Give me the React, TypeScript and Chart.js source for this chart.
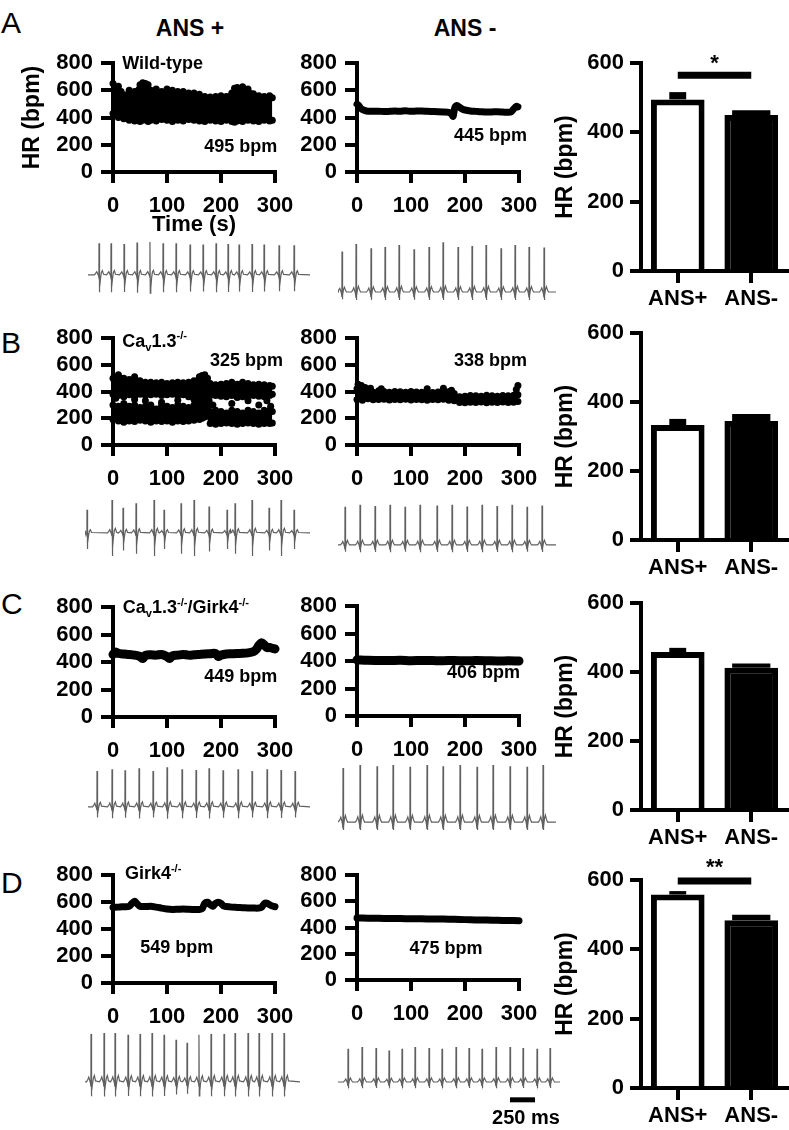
import React, { useEffect, useRef } from 'react';
import { Chart, registerables } from 'chart.js';
Chart.register(...registerables);

const FONT = "'Liberation Sans', Arial, Helvetica, sans-serif";

// ---------------- axis ticks / categories ----------------
const TIME_TICKS = [0, 100, 200, 300];
const HR_TICKS = [0, 200, 400, 600, 800];
const BAR_TICKS = [0, 200, 400, 600];
const BAR_CATEGORIES = ['ANS+', 'ANS-'];

// ---------------- A: wild-type ----------------
const A_PLUS_T = [0, 5, 10, 15, 20, 30, 40, 50, 55, 60, 65, 70, 80, 90, 100, 110, 120, 130, 140, 150, 160, 170, 180, 190, 200, 210, 220, 225, 230, 235, 240, 250, 260, 270, 280, 290, 295];
const A_PLUS_TOP = [650, 610, 630, 590, 565, 600, 590, 640, 655, 650, 640, 600, 610, 590, 610, 600, 590, 590, 580, 580, 570, 555, 550, 555, 560, 555, 580, 615, 620, 600, 625, 610, 575, 560, 555, 560, 545];
const A_PLUS_BOT = [430, 440, 400, 420, 390, 380, 375, 370, 380, 385, 370, 380, 375, 385, 380, 370, 380, 375, 385, 380, 375, 370, 380, 375, 370, 380, 370, 365, 375, 380, 370, 380, 375, 370, 380, 375, 380];
const A_MINUS_T = [0, 3, 6, 10, 15, 20, 30, 40, 50, 60, 70, 80, 90, 100, 110, 120, 130, 140, 150, 160, 170, 175, 178, 181, 185, 190, 195, 200, 210, 220, 230, 240, 250, 260, 270, 280, 285, 290, 295, 298];
const A_MINUS_HR = [498, 490, 472, 458, 450, 446, 445, 446, 444, 445, 447, 446, 449, 445, 447, 448, 445, 444, 443, 441, 438, 425, 408, 470, 488, 475, 462, 455, 448, 445, 442, 440, 441, 442, 440, 438, 440, 462, 482, 478];
const A_BAR_MEAN = [495, 450];
const A_BAR_SEM = [21, 14];
const A_SIG = 565;

// ---------------- B: Cav1.3-/- ----------------
const B_PLUS_T = [0, 10, 20, 30, 40, 50, 60, 70, 80, 90, 100, 110, 120, 130, 140, 150, 160, 165, 170, 175, 180, 190, 200, 210, 220, 230, 240, 250, 260, 270, 280, 290, 295];
const B_PLUS_HI_TOP = [500, 525, 500, 490, 510, 480, 470, 470, 465, 470, 460, 465, 470, 465, 470, 480, 510, 520, 525, 500, 460, 450, 455, 460, 470, 455, 470, 460, 450, 455, 450, 445, 440];
const B_PLUS_HI_BOT = [380, 370, 360, 375, 365, 380, 370, 375, 380, 370, 375, 380, 370, 375, 360, 350, 330, 300, 290, 350, 370, 370, 365, 360, 370, 355, 360, 365, 370, 365, 360, 370, 380];
const B_PLUS_LO_TOP = [300, 290, 310, 290, 300, 280, 290, 300, 270, 300, 290, 280, 300, 290, 280, 300, 310, 320, 330, 340, 250, 260, 250, 240, 260, 250, 240, 260, 250, 240, 260, 260, 250];
const B_PLUS_LO_BOT = [190, 180, 170, 180, 175, 185, 180, 170, 180, 175, 180, 170, 180, 175, 180, 185, 190, 200, 210, 230, 160, 155, 160, 165, 160, 155, 160, 165, 160, 155, 160, 160, 165];
const B_PLUS_LOOSE_T = [5, 40, 60, 90, 120, 150, 160, 168, 172, 178, 185, 220, 250, 270, 285, 292];
const B_PLUS_LOOSE_HR = [350, 340, 330, 320, 335, 340, 300, 250, 220, 330, 300, 310, 330, 300, 330, 290];
const B_MINUS_T = [0, 10, 20, 30, 40, 50, 60, 70, 80, 90, 100, 110, 120, 130, 140, 150, 160, 170, 180, 190, 200, 210, 220, 230, 240, 250, 260, 270, 280, 290, 298];
const B_MINUS_TOP = [420, 400, 410, 395, 405, 400, 395, 400, 398, 395, 400, 396, 394, 398, 392, 396, 400, 398, 385, 360, 365, 370, 368, 365, 372, 368, 365, 370, 368, 372, 375];
const B_MINUS_BOT = [340, 335, 345, 338, 340, 342, 336, 340, 338, 342, 336, 340, 338, 335, 340, 338, 342, 335, 330, 318, 315, 320, 318, 322, 316, 320, 318, 322, 318, 320, 325];
const B_MINUS_LOOSE_T = [2, 5, 8, 15, 25, 45, 130, 160, 175, 295, 298];
const B_MINUS_LOOSE_HR = [455, 440, 445, 430, 425, 420, 420, 425, 410, 415, 445];
const B_BAR_MEAN = [333, 345];
const B_BAR_SEM = [18, 20];

// ---------------- C: Cav1.3-/-/Girk4-/- ----------------
const C_PLUS_T = [0, 5, 10, 20, 30, 40, 50, 55, 60, 70, 80, 90, 100, 105, 110, 120, 130, 140, 150, 160, 170, 180, 190, 195, 200, 210, 220, 230, 240, 250, 260, 265, 270, 275, 280, 285, 290, 295, 300];
const C_PLUS_HR = [455, 472, 462, 458, 455, 450, 440, 425, 448, 452, 450, 455, 440, 425, 445, 450, 455, 450, 452, 455, 458, 460, 462, 440, 450, 458, 460, 462, 463, 466, 475, 490, 520, 540, 525, 505, 505, 500, 495];
const C_MINUS_T = [0, 20, 40, 60, 80, 100, 120, 140, 160, 180, 200, 220, 240, 260, 280, 300];
const C_MINUS_HR = [408, 405, 404, 403, 405, 402, 404, 403, 402, 404, 401, 403, 402, 400, 401, 400];
const C_BAR_MEAN = [458, 412];
const C_BAR_SEM = [12, 13];

// ---------------- D: Girk4-/- ----------------
const D_PLUS_T = [0, 10, 20, 30, 35, 40, 45, 50, 60, 70, 80, 90, 100, 110, 120, 130, 140, 150, 160, 165, 170, 175, 180, 185, 190, 195, 200, 205, 210, 220, 230, 240, 250, 260, 270, 275, 280, 285, 290, 295, 300];
const D_PLUS_HR = [560, 562, 565, 568, 590, 605, 585, 568, 566, 568, 562, 555, 548, 545, 546, 548, 546, 545, 544, 550, 590, 598, 580, 568, 590, 598, 590, 570, 566, 562, 560, 558, 556, 555, 555, 560, 588, 592, 580, 570, 565];
const D_MINUS_T = [0, 20, 40, 60, 80, 100, 120, 140, 160, 180, 200, 220, 240, 260, 280, 300];
const D_MINUS_HR = [472, 471, 470, 469, 468, 467, 466, 465, 464, 462, 460, 458, 457, 455, 453, 452];
const D_BAR_MEAN = [558, 484];
const D_BAR_SEM = [10, 16];
const D_SIG = 597;

// ---------------- ECG traces (ms, relative amplitude) ----------------
const ECG_TPL_T = [-45, -32, -22, -12, -5, -1, 0, 3, 8, 15, 24, 34, 45];
const ECG_TPL_WT = [0, 0.06, 0.1, 0.03, -0.02, -0.08, 1, -0.55, -0.4, -0.12, 0.08, 0.14, 0.02];
const ECG_TPL_NARROW = [0, 0.04, 0.09, 0.02, -0.04, -0.12, 1, -0.18, -0.08, 0.06, 0.12, 0.05, 0];
const ECG_TPL_DEEP = [0, 0.05, 0.1, 0.02, -0.03, -0.1, 1, -0.7, -0.45, -0.12, 0.08, 0.14, 0.02];
const ECG_TPL_MID = [0, 0.05, 0.1, 0.02, -0.03, -0.1, 1, -0.3, -0.2, -0.04, 0.08, 0.13, 0.02];

const ECG_A_PLUS_BEATS = [110, 230, 360, 490, 620, 750, 880, 1020, 1150, 1280, 1400, 1510, 1640, 1760, 1910, 2060];
const ECG_A_PLUS_AMPS = [0.96, 0.96, 0.94, 0.98, 1.0, 0.96, 0.96, 0.92, 0.92, 0.96, 0.94, 0.92, 0.94, 0.92, 0.9, 0.9];
const ECG_A_MINUS_BEATS = [40, 180, 330, 470, 610, 760, 910, 1050, 1200, 1340, 1480, 1630, 1770, 1910, 2060];
const ECG_A_MINUS_AMPS = [0.86, 1.02, 0.93, 0.96, 1.0, 0.91, 0.96, 1.06, 0.96, 0.98, 1.0, 0.93, 1.0, 0.96, 0.95];
const ECG_B_PLUS_BEATS = [20, 270, 380, 510, 690, 790, 960, 1090, 1240, 1420, 1500, 1670, 1840, 1960, 2090];
const ECG_B_PLUS_AMPS = [0.7, 1.0, 0.76, 0.9, 1.0, 0.7, 0.9, 1.0, 0.8, 0.7, 0.9, 1.0, 0.76, 1.0, 0.7];
const ECG_B_MINUS_BEATS = [70, 220, 370, 520, 670, 820, 990, 1140, 1290, 1440, 1590, 1740, 1890, 2040];
const ECG_B_MINUS_AMPS = [0.95, 1.0, 0.97, 1.0, 0.95, 1.0, 0.98, 1.0, 0.96, 1.0, 0.97, 1.0, 0.95, 0.98];
const ECG_C_PLUS_BEATS = [90, 240, 370, 510, 650, 790, 940, 1080, 1210, 1350, 1500, 1640, 1790, 1930, 2070];
const ECG_C_PLUS_AMPS = [0.9, 0.95, 0.92, 0.97, 0.9, 1.0, 0.95, 0.93, 0.97, 0.92, 0.95, 0.9, 0.95, 0.93, 0.9];
const ECG_C_MINUS_BEATS = [50, 220, 390, 550, 720, 890, 1050, 1220, 1390, 1550, 1720, 1890, 2050];
const ECG_C_MINUS_AMPS = [0.95, 1.0, 0.98, 1.0, 0.97, 1.0, 0.98, 1.0, 0.97, 1.0, 0.98, 0.97, 1.0];
const ECG_D_PLUS_BEATS = [60, 190, 300, 430, 550, 670, 790, 910, 1020, 1140, 1260, 1390, 1500, 1630, 1740, 1870, 1990];
const ECG_D_PLUS_AMPS = [0.98, 1.0, 1.0, 0.96, 0.98, 1.0, 0.96, 0.86, 0.8, 0.96, 0.98, 0.98, 1.0, 1.0, 1.0, 1.0, 1.0];
const ECG_D_MINUS_BEATS = [100, 240, 380, 510, 640, 770, 910, 1040, 1180, 1310, 1440, 1580, 1720, 1850, 1990, 2120];
const ECG_D_MINUS_AMPS = [0.95, 1.0, 0.97, 0.9, 0.95, 1.0, 0.97, 0.95, 1.0, 0.97, 0.95, 1.0, 1.0, 0.97, 0.95, 0.97];
const SCALE_BAR_MS = [1720, 1970];

// ---------------- helpers ----------------
type Seg = { t: string; m?: 'sub' | 'sup' };
type Note = { x: number; y: number; segs: Seg[]; align: 'left' | 'right' | 'center'; size: number };
type Box = { x: number; y: number; w: number; h: number };
type Area = { left: number; right: number; top: number; bottom: number };

const txt = (t: string): Seg[] => [{ t }];
const CAV: Seg[] = [{ t: 'Ca' }, { t: 'v', m: 'sub' }, { t: '1.3' }, { t: '-/-', m: 'sup' }];
const CAV_GIRK: Seg[] = [{ t: 'Ca' }, { t: 'v', m: 'sub' }, { t: '1.3' }, { t: '-/-', m: 'sup' }, { t: '/Girk4' }, { t: '-/-', m: 'sup' }];
const GIRK: Seg[] = [{ t: 'Girk4' }, { t: '-/-', m: 'sup' }];

function drawRich(ctx: CanvasRenderingContext2D, segs: Seg[], x: number, y: number, size: number, align: string) {
  let total = 0;
  const parts = segs.map((s) => {
    const fs = s.m ? size * 0.62 : size;
    ctx.font = `bold ${fs}px ${FONT}`;
    const w = ctx.measureText(s.t).width;
    total += w;
    return { s, fs, w };
  });
  let cx = align === 'right' ? x - total : align === 'center' ? x - total / 2 : x;
  const base = y + size * 0.36;
  ctx.textAlign = 'left';
  ctx.textBaseline = 'alphabetic';
  for (const p of parts) {
    ctx.font = `bold ${p.fs}px ${FONT}`;
    const dy = p.s.m === 'sub' ? size * 0.22 : p.s.m === 'sup' ? -size * 0.42 : 0;
    ctx.fillText(p.s.t, cx, base + dy);
    cx += p.w;
  }
}

const notesPlugin = (notes: Note[]) => ({
  id: 'notes',
  afterDraw(chart: any) {
    const ctx = chart.ctx;
    const xs = chart.scales.x;
    const ys = chart.scales.y;
    ctx.save();
    ctx.fillStyle = '#000';
    for (const n of notes) {
      drawRich(ctx, n.segs, xs.getPixelForValue(n.x), ys.getPixelForValue(n.y), n.size, n.align);
    }
    ctx.restore();
  },
});

const pts = (T: number[], V: number[]) => T.map((t, i) => ({ x: t, y: V[i] }));

const bandSets = (T: number[], top: number[], bot: number[]) => [
  { data: pts(T, top), borderColor: '#000', backgroundColor: '#000', borderWidth: 3, pointRadius: 3.5, pointBackgroundColor: '#000', pointBorderWidth: 0, fill: '+1', clip: 6 },
  { data: pts(T, bot), borderColor: '#000', backgroundColor: '#000', borderWidth: 3, pointRadius: 3.5, pointBackgroundColor: '#000', pointBorderWidth: 0, fill: false, clip: 6 },
];
const thickLine = (T: number[], V: number[], w: number) => ({
  data: pts(T, V), borderColor: '#000', borderWidth: w, pointRadius: 0, fill: false, tension: 0.3,
  borderCapStyle: 'round', borderJoinStyle: 'round', clip: 6,
});
const looseDots = (T: number[], V: number[]) => ({
  data: pts(T, V), showLine: false, pointRadius: 3.5, pointBackgroundColor: '#000', pointBorderWidth: 0, borderColor: '#000', clip: 6,
});

const tickFont = { family: FONT, size: 22, weight: 'bold' as const };
const titleFont = { family: FONT, size: 23, weight: 'bold' as const };

const axisStyle = (tickLength: number, padding: number) => ({
  border: { display: true, color: '#000', width: 4 },
  grid: { display: true, drawOnChartArea: false, drawTicks: true, tickLength, tickWidth: 4, tickColor: '#000', color: '#000', lineWidth: 4, offset: false },
  ticks: { color: '#000', font: tickFont, padding, maxRotation: 0, autoSkip: false },
});

function hrConfig(box: Box, area: Area, datasets: any[], notes: Note[], xTitle: boolean, yTitle: boolean) {
  return {
    type: 'line',
    data: { datasets },
    options: {
      animation: false, responsive: false, devicePixelRatio: 1, events: [],
      layout: { padding: { left: 0, top: area.top - box.y, right: box.x + box.w - area.right, bottom: 0 } },
      plugins: { legend: { display: false }, tooltip: { enabled: false } },
      scales: {
        x: {
          type: 'linear', min: 0, max: 300,
          ...axisStyle(11, 10),
          afterBuildTicks: (s: any) => { s.ticks = TIME_TICKS.map((v) => ({ value: v })); },
          afterFit: (s: any) => { s.height = box.y + box.h - area.bottom; },
          title: { display: xTitle, text: 'Time (s)', color: '#000', font: { family: FONT, size: 22, weight: 'bold' }, padding: 0 },
        },
        y: {
          type: 'linear', min: 0, max: 800,
          ...axisStyle(12, 8),
          afterBuildTicks: (s: any) => { s.ticks = HR_TICKS.map((v) => ({ value: v })); },
          afterFit: (s: any) => { s.width = area.left - box.x; },
          title: { display: yTitle, text: 'HR (bpm)', color: '#000', font: titleFont, padding: { top: 19, bottom: 0 } },
        },
      },
    },
    plugins: [notesPlugin(notes)],
  };
}

function barConfig(box: Box, area: Area, means: number[], sems: number[], sig: number | null, notes: Note[]) {
  const datasets: any[] = [];
  if (sig !== null) {
    datasets.push({ type: 'line', data: [sig, sig], borderColor: '#000', borderWidth: 7, pointRadius: 0, order: 1, clip: false, borderCapStyle: 'butt' });
  }
  datasets.push({ type: 'bar', data: [[means[0], means[0] + sems[0]], null], backgroundColor: '#000', barPercentage: 0.23, categoryPercentage: 1, grouped: false, order: 2 });
  datasets.push({ type: 'bar', data: [null, [means[1], means[1] + sems[1]]], backgroundColor: '#000', barPercentage: 0.52, categoryPercentage: 1, grouped: false, order: 2 });
  datasets.push({ type: 'bar', data: means, backgroundColor: ['#fff', '#000'], borderColor: '#000', borderWidth: 6, barPercentage: 0.73, categoryPercentage: 1, grouped: false, order: 3 });
  return {
    type: 'bar',
    data: { labels: BAR_CATEGORIES, datasets },
    options: {
      animation: false, responsive: false, devicePixelRatio: 1, events: [],
      layout: { padding: { left: 0, top: area.top - box.y, right: box.x + box.w - area.right, bottom: 0 } },
      plugins: { legend: { display: false }, tooltip: { enabled: false } },
      scales: {
        x: {
          type: 'category', offset: true,
          ...axisStyle(12, 3),
          afterFit: (s: any) => { s.height = box.y + box.h - area.bottom; },
        },
        y: {
          type: 'linear', min: 0, max: 600,
          ...axisStyle(11, 6),
          afterBuildTicks: (s: any) => { s.ticks = BAR_TICKS.map((v) => ({ value: v })); },
          afterFit: (s: any) => { s.width = area.left - box.x; },
          title: { display: true, text: 'HR (bpm)', color: '#000', font: titleFont, padding: { top: 7, bottom: 0 } },
        },
      },
    },
    plugins: [notesPlugin(notes)],
  };
}

function ecgConfig(span: number, ymin: number, ymax: number, tpl: number[], beats: number[], amps: number[], withScaleBar = false) {
  const trace: { x: number; y: number }[] = [{ x: 0, y: 0 }];
  beats.forEach((b, i) => ECG_TPL_T.forEach((t, j) => trace.push({ x: b + t, y: tpl[j] * amps[i] })));
  trace.push({ x: span, y: 0 });
  trace.sort((a, b) => a.x - b.x);
  const datasets: any[] = [{ data: trace, borderColor: '#606060', borderWidth: 1.2, pointRadius: 0, fill: false, tension: 0 }];
  const notes: Note[] = [];
  if (withScaleBar) {
    datasets.push({ data: SCALE_BAR_MS.map((x) => ({ x, y: -0.51 })), borderColor: '#000', borderWidth: 5, pointRadius: 0, fill: false, borderCapStyle: 'butt' });
    notes.push({ x: 1880, y: -1.0, segs: txt('250 ms'), align: 'center', size: 20 });
  }
  return {
    type: 'line',
    data: { datasets },
    options: {
      animation: false, responsive: false, devicePixelRatio: 1, events: [],
      layout: { padding: 0 },
      plugins: { legend: { display: false }, tooltip: { enabled: false } },
      scales: {
        x: { type: 'linear', display: false, min: 0, max: span },
        y: { type: 'linear', display: false, min: ymin, max: ymax },
      },
    },
    plugins: [notesPlugin(notes)],
  };
}

// ---------------- panels ----------------
type Panel = { key: string; box: Box; make: () => any };

const L = (top: number, bottom: number): Area => ({ left: 113, right: 275, top, bottom });
const M = (top: number, bottom: number): Area => ({ left: 357, right: 519, top, bottom });
const R = (top: number, bottom: number): Area => ({ left: 641, right: 788, top, bottom });

const PANELS: Panel[] = [
  // Row A
  { key: 'aL', box: { x: 0, y: 38, w: 320, h: 200 }, make: () => hrConfig({ x: 0, y: 38, w: 320, h: 200 }, L(63, 172),
    [...bandSets(A_PLUS_T, A_PLUS_TOP, A_PLUS_BOT)],
    [{ x: 17, y: 805, segs: txt('Wild-type'), align: 'left', size: 18 }, { x: 304, y: 198, segs: txt('495 bpm'), align: 'right', size: 18 }], true, true) },
  { key: 'aM', box: { x: 300, y: 38, w: 250, h: 184 }, make: () => hrConfig({ x: 300, y: 38, w: 250, h: 184 }, M(63, 172),
    [thickLine(A_MINUS_T, A_MINUS_HR, 7)],
    [{ x: 315, y: 272, segs: txt('445 bpm'), align: 'right', size: 18 }], false, false) },
  { key: 'aR', box: { x: 545, y: 33, w: 244, h: 283 }, make: () => barConfig({ x: 545, y: 33, w: 244, h: 283 }, R(63, 271), A_BAR_MEAN, A_BAR_SEM, A_SIG,
    [{ x: 0.5, y: 603, segs: txt('*'), align: 'center', size: 22 }]) },
  { key: 'aLe', box: { x: 88, y: 238, w: 222, h: 62 }, make: () => ecgConfig(2220, -0.76, 1.12, ECG_TPL_WT, ECG_A_PLUS_BEATS, ECG_A_PLUS_AMPS) },
  { key: 'aMe', box: { x: 338, y: 238, w: 218, h: 62 }, make: () => ecgConfig(2180, -0.17, 1.15, ECG_TPL_NARROW, ECG_A_MINUS_BEATS, ECG_A_MINUS_AMPS) },

  // Row B
  { key: 'bL', box: { x: 0, y: 313, w: 320, h: 182 }, make: () => hrConfig({ x: 0, y: 313, w: 320, h: 182 }, L(338, 445),
    [...bandSets(B_PLUS_T, B_PLUS_HI_TOP, B_PLUS_HI_BOT), ...bandSets(B_PLUS_T, B_PLUS_LO_TOP, B_PLUS_LO_BOT), looseDots(B_PLUS_LOOSE_T, B_PLUS_LOOSE_HR)],
    [{ x: 17, y: 784, segs: CAV, align: 'left', size: 18 }, { x: 315, y: 642, segs: txt('325 bpm'), align: 'right', size: 18 }], false, false) },
  { key: 'bM', box: { x: 300, y: 313, w: 250, h: 182 }, make: () => hrConfig({ x: 300, y: 313, w: 250, h: 182 }, M(338, 445),
    [...bandSets(B_MINUS_T, B_MINUS_TOP, B_MINUS_BOT), looseDots(B_MINUS_LOOSE_T, B_MINUS_LOOSE_HR)],
    [{ x: 315, y: 642, segs: txt('338 bpm'), align: 'right', size: 18 }], false, false) },
  { key: 'bR', box: { x: 545, y: 303, w: 244, h: 282 }, make: () => barConfig({ x: 545, y: 303, w: 244, h: 282 }, R(333, 540), B_BAR_MEAN, B_BAR_SEM, null, []) },
  { key: 'bLe', box: { x: 85, y: 495, w: 225, h: 65 }, make: () => ecgConfig(2250, -0.82, 1.15, ECG_TPL_DEEP, ECG_B_PLUS_BEATS, ECG_B_PLUS_AMPS) },
  { key: 'bMe', box: { x: 338, y: 500, w: 218, h: 60 }, make: () => ecgConfig(2180, -0.375, 1.12, ECG_TPL_NARROW, ECG_B_MINUS_BEATS, ECG_B_MINUS_AMPS) },

  // Row C
  { key: 'cL', box: { x: 0, y: 582, w: 320, h: 185 }, make: () => hrConfig({ x: 0, y: 582, w: 320, h: 185 }, L(607, 717),
    [thickLine(C_PLUS_T, C_PLUS_HR, 9)],
    [{ x: 18, y: 800, segs: CAV_GIRK, align: 'left', size: 18 }, { x: 304, y: 305, segs: txt('449 bpm'), align: 'right', size: 18 }], false, false) },
  { key: 'cM', box: { x: 300, y: 581, w: 250, h: 185 }, make: () => hrConfig({ x: 300, y: 581, w: 250, h: 185 }, M(606, 716),
    [thickLine(C_MINUS_T, C_MINUS_HR, 9)],
    [{ x: 302, y: 320, segs: txt('406 bpm'), align: 'right', size: 18 }], false, false) },
  { key: 'cR', box: { x: 545, y: 573, w: 244, h: 282 }, make: () => barConfig({ x: 545, y: 573, w: 244, h: 282 }, R(603, 810), C_BAR_MEAN, C_BAR_SEM, null, []) },
  { key: 'cLe', box: { x: 88, y: 760, w: 222, h: 60 }, make: () => ecgConfig(2220, -0.33, 1.18, ECG_TPL_MID, ECG_C_PLUS_BEATS, ECG_C_PLUS_AMPS) },
  { key: 'cMe', box: { x: 338, y: 760, w: 218, h: 70 }, make: () => ecgConfig(2180, -0.14, 1.09, ECG_TPL_NARROW, ECG_C_MINUS_BEATS, ECG_C_MINUS_AMPS) },

  // Row D
  { key: 'dL', box: { x: 0, y: 850, w: 320, h: 183 }, make: () => hrConfig({ x: 0, y: 850, w: 320, h: 183 }, L(875, 983),
    [thickLine(D_PLUS_T, D_PLUS_HR, 7)],
    [{ x: 22, y: 815, segs: GIRK, align: 'left', size: 18 }, { x: 118, y: 267, segs: txt('549 bpm'), align: 'center', size: 18 }], false, false) },
  { key: 'dM', box: { x: 300, y: 850, w: 250, h: 180 }, make: () => hrConfig({ x: 300, y: 850, w: 250, h: 180 }, M(875, 980),
    [thickLine(D_MINUS_T, D_MINUS_HR, 7)],
    [{ x: 165, y: 251, segs: txt('475 bpm'), align: 'center', size: 18 }], false, false) },
  { key: 'dR', box: { x: 545, y: 850, w: 244, h: 280 }, make: () => barConfig({ x: 545, y: 850, w: 244, h: 280 }, R(880, 1088), D_BAR_MEAN, D_BAR_SEM, D_SIG,
    [{ x: 0.5, y: 640, segs: txt('**'), align: 'center', size: 22 }]) },
  { key: 'dLe', box: { x: 85, y: 1028, w: 215, h: 72 }, make: () => ecgConfig(2150, -0.37, 1.1, ECG_TPL_MID, ECG_D_PLUS_BEATS, ECG_D_PLUS_AMPS) },
  { key: 'dMe', box: { x: 338, y: 1040, w: 222, h: 85 }, make: () => ecgConfig(2220, -1.23, 1.2, ECG_TPL_NARROW, ECG_D_MINUS_BEATS, ECG_D_MINUS_AMPS, true) },
];

function ChartBox({ box, make }: { box: Box; make: () => any }) {
  const ref = useRef<HTMLCanvasElement>(null);
  useEffect(() => {
    const chart = new Chart(ref.current as HTMLCanvasElement, make());
    return () => chart.destroy();
  }, []);
  return (
    <canvas
      ref={ref}
      width={box.w}
      height={box.h}
      style={{ position: 'absolute', left: box.x, top: box.y, width: box.w, height: box.h }}
    />
  );
}

const LETTERS = [
  { t: 'A', top: 8 },
  { t: 'B', top: 328 },
  { t: 'C', top: 589 },
  { t: 'D', top: 868 },
];

export default function App() {
  return (
    <div style={{ position: 'absolute', left: 0, top: 0, width: 789, height: 1130, background: '#fff', overflow: 'hidden', fontFamily: FONT }}>
      {LETTERS.map((l) => (
        <div key={l.t} style={{ position: 'absolute', left: 1, top: l.top, fontSize: 30, lineHeight: '30px', fontWeight: 'normal', color: '#000' }}>{l.t}</div>
      ))}
      <div style={{ position: 'absolute', left: 190, top: 17, transform: 'translateX(-50%)', fontSize: 23, lineHeight: '23px', fontWeight: 'bold', whiteSpace: 'nowrap' }}>ANS +</div>
      <div style={{ position: 'absolute', left: 465, top: 17, transform: 'translateX(-50%)', fontSize: 23, lineHeight: '23px', fontWeight: 'bold', whiteSpace: 'nowrap' }}>ANS -</div>
      {PANELS.map((p) => (
        <ChartBox key={p.key} box={p.box} make={p.make} />
      ))}
    </div>
  );
}
